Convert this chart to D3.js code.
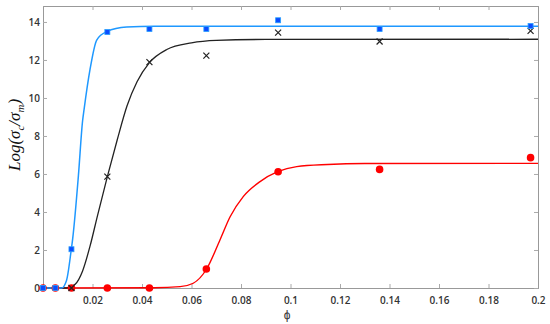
<!DOCTYPE html>
<html>
<head>
<meta charset="utf-8">
<script src="https://cdn.jsdelivr.net/npm/d3@7"></script>
<style>
  body { margin: 0; background: #fff; }
  .tick text { font-family: "Open Sans", sans-serif; font-size: 10px; font-weight: 600; fill: #333; }
</style>
</head>
<body>
<div id="chart"></div>
<script>
// measured points (phi vs log conductivity ratio)
var phi = [0, 0.005, 0.0115, 0.026, 0.043, 0.066, 0.095, 0.136, 0.197];
var blueVals = [0, 0, 2.04, 13.47, 13.63, 13.63, 14.09, 13.63, 13.79];
var blackPhi = [0.0115, 0.026, 0.043, 0.066, 0.095, 0.136, 0.197];
var blackVals = [0, 5.86, 11.89, 12.23, 13.44, 12.97, 13.53];
var redVals = [0, 0, 0, 0, 0, 1.0, 6.12, 6.24, 6.86];

// fitted curves
var blueFitX = [0, 0.0075, 0.0095, 0.0114, 0.012, 0.0143, 0.016, 0.0166, 0.019, 0.0217, 0.0257, 0.0338, 0.045, 0.2];
var blueFitY = [0, 0, 0.4, 2.0, 2.6, 5.9, 8.8, 9.4, 11.5, 13.05, 13.49, 13.73, 13.77, 13.77];
var blackFitX = [0, 0.0095, 0.013, 0.016, 0.019, 0.022, 0.026, 0.03, 0.034, 0.038, 0.043, 0.05, 0.06, 0.07, 0.09, 0.2];
var blackFitY = [0, 0, 0.2, 0.9, 2.2, 3.8, 5.86, 7.8, 9.6, 10.85, 11.86, 12.55, 12.9, 13.03, 13.08, 13.09];
var redFitX = [0, 0.045, 0.0554, 0.0607, 0.0661, 0.0715, 0.0756, 0.0809, 0.0877, 0.0948, 0.1025, 0.115, 0.13, 0.2];
var redFitY = [0, 0.01, 0.07, 0.25, 1.0, 2.53, 3.75, 4.81, 5.6, 6.12, 6.39, 6.5, 6.55, 6.56];

var xTicks = [0.02, 0.04, 0.06, 0.08, 0.1, 0.12, 0.14, 0.16, 0.18, 0.2];
var yTicks = [0, 2, 4, 6, 8, 10, 12, 14];

var margin = {top: 6, right: 12, bottom: 36, left: 43},
    width = 550 - margin.left - margin.right,
    height = 324 - margin.top - margin.bottom;

var svg = d3.select("#chart")
  .append("svg")
    .attr("width", 550)
    .attr("height", 324);

var g = svg.append("g")
    .attr("transform", "translate(" + margin.left + "," + margin.top + ")");

var x = d3.scaleLinear().domain([0, 0.2]).range([0, width]);
var y = d3.scaleLinear().domain([0, 14.84]).range([height, 0]);

var fmt = function(d) { return String(+d.toFixed(2)); };

// axes, ticks pointing inward
g.append("g")
    .attr("transform", "translate(0," + height + ")")
    .call(d3.axisBottom(x).tickValues(xTicks).tickSize(-4).tickPadding(9).tickFormat(fmt));
g.append("g")
    .call(d3.axisTop(x).tickValues(xTicks).tickSize(-4).tickFormat(""));
g.append("g")
    .call(d3.axisLeft(y).tickValues(yTicks).tickSize(-4).tickPadding(3));
g.append("g")
    .attr("transform", "translate(" + width + ",0)")
    .call(d3.axisRight(y).tickValues(yTicks).tickSize(-4).tickFormat(""));

g.selectAll(".domain").attr("stroke", "#999");
g.selectAll(".tick line").attr("stroke", "#aaa");

// fit lines
var line = d3.line()
    .x(function(d) { return x(d[0]); })
    .y(function(d) { return y(d[1]); })
    .curve(d3.curveMonotoneX);

function fit(xs, ys) { return xs.map(function(v, i) { return [v, ys[i]]; }); }

g.append("path").datum(fit(redFitX, redFitY))
    .attr("d", line).attr("fill", "none").attr("stroke", "#f00").attr("stroke-width", 1.4);
g.append("path").datum(fit(blackFitX, blackFitY))
    .attr("d", line).attr("fill", "none").attr("stroke", "#222").attr("stroke-width", 1.3);
g.append("path").datum(fit(blueFitX, blueFitY))
    .attr("d", line).attr("fill", "none").attr("stroke", "#1e98ff").attr("stroke-width", 1.5);

// red circles
g.selectAll(".red")
  .data(fit(phi, redVals))
  .enter()
  .append("circle")
    .attr("cx", function(d) { return x(d[0]); })
    .attr("cy", function(d) { return y(d[1]); })
    .attr("r", 3.8)
    .attr("fill", "#f00");

// black crosses
g.selectAll(".cross")
  .data(fit(blackPhi, blackVals))
  .enter()
  .append("path")
    .attr("d", function(d) {
      var cx = x(d[0]), cy = y(d[1]), s = 3;
      return "M" + (cx - s) + "," + (cy - s) + "L" + (cx + s) + "," + (cy + s) +
             "M" + (cx - s) + "," + (cy + s) + "L" + (cx + s) + "," + (cy - s);
    })
    .attr("stroke", "#222")
    .attr("stroke-width", 1.2);

// blue squares
g.selectAll(".sq")
  .data(fit(phi, blueVals))
  .enter()
  .append("rect")
    .attr("x", function(d) { return x(d[0]) - 2.5; })
    .attr("y", function(d) { return y(d[1]) - 2.5; })
    .attr("width", 5)
    .attr("height", 5)
    .attr("fill", "#0a4cff")
    .attr("stroke", "#2aa0ff")
    .attr("stroke-width", 0.8);

// axis labels
svg.append("text")
    .attr("x", 287)
    .attr("y", 319)
    .attr("text-anchor", "middle")
    .attr("font-family", "'Open Sans', sans-serif")
    .attr("font-size", "12px")
    .attr("fill", "#333")
    .text("ϕ");

var yl = svg.append("text")
    .attr("transform", "translate(20,135) rotate(-90)")
    .attr("text-anchor", "middle")
    .attr("font-family", "'Liberation Serif', serif")
    .attr("font-style", "italic")
    .attr("font-size", "17px")
    .attr("fill", "#111");
yl.append("tspan").text("Log(σ");
yl.append("tspan").attr("font-size", "11px").attr("dy", 4).text("c");
yl.append("tspan").attr("dy", -4).text("/σ");
yl.append("tspan").attr("font-size", "11px").attr("dy", 4).text("m");
yl.append("tspan").attr("dy", -4).text(")");
</script>
</body>
</html>
